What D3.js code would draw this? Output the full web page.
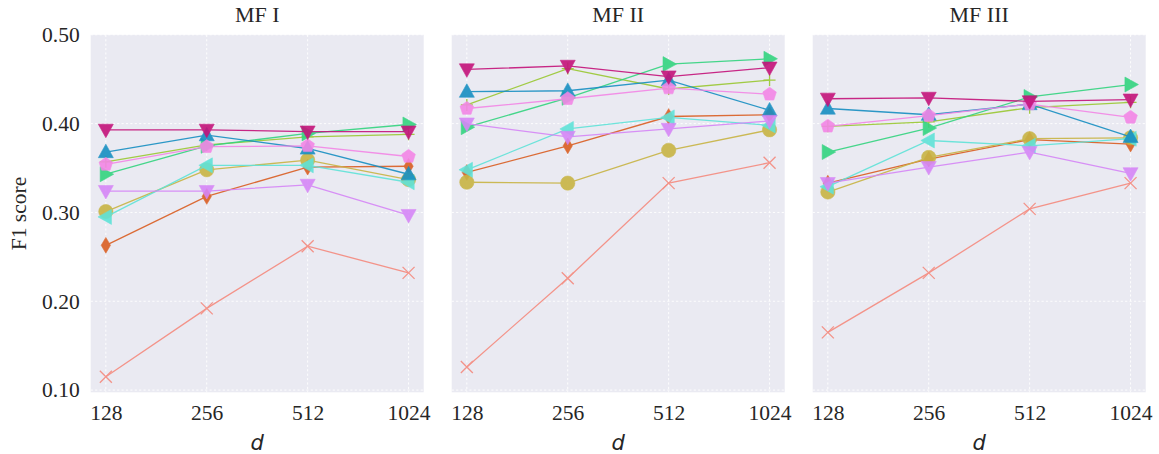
<!DOCTYPE html>
<html>
<head>
<meta charset="utf-8">
<script src="https://cdn.jsdelivr.net/npm/d3@7"></script>
<style>
  html, body { margin: 0; padding: 0; background: #ffffff; }
  svg { display: block; }
</style>
</head>
<body>
<svg id="chart" width="1159" height="454"></svg>
<script>
// ---------------- data ----------------
const categories = ["128", "256", "512", "1024"];
const panels = ["MF I", "MF II", "MF III"];
const yTicks = [0.10, 0.20, 0.30, 0.40, 0.50];

// each array: [MF I, MF II, MF III], values for d = 128, 256, 512, 1024
const seriesSalmon    = [[0.115, 0.192, 0.262, 0.232], [0.126, 0.226, 0.333, 0.356], [0.165, 0.232, 0.304, 0.333]];
const seriesOrange    = [[0.263, 0.318, 0.351, 0.352], [0.345, 0.375, 0.408, 0.410], [0.333, 0.360, 0.382, 0.377]];
const seriesOlive     = [[0.301, 0.348, 0.359, 0.337], [0.334, 0.333, 0.370, 0.393], [0.323, 0.362, 0.383, 0.384]];
const seriesYellowGreen = [[0.357, 0.376, 0.385, 0.388], [0.421, 0.462, 0.439, 0.449], [0.397, 0.402, 0.418, 0.424]];
const seriesGreen     = [[0.343, 0.375, 0.389, 0.399], [0.396, 0.429, 0.467, 0.473], [0.368, 0.395, 0.430, 0.444]];
const seriesTurquoise = [[0.295, 0.353, 0.353, 0.334], [0.348, 0.394, 0.407, 0.398], [0.329, 0.381, 0.375, 0.383]];
const seriesBlue      = [[0.368, 0.387, 0.372, 0.343], [0.436, 0.437, 0.449, 0.415], [0.417, 0.410, 0.422, 0.385]];
const seriesViolet    = [[0.324, 0.324, 0.331, 0.297], [0.400, 0.385, 0.394, 0.403], [0.333, 0.351, 0.368, 0.344]];
const seriesPink      = [[0.354, 0.374, 0.375, 0.363], [0.417, 0.428, 0.440, 0.433], [0.397, 0.409, 0.422, 0.407]];
const seriesMagenta   = [[0.393, 0.393, 0.391, 0.391], [0.461, 0.465, 0.453, 0.463], [0.428, 0.429, 0.425, 0.427]];

// ---------------- styles ----------------
const seriesList = [
  { values: seriesSalmon,      color: "#F58A7E", marker: "x" },
  { values: seriesOrange,      color: "#DA5E22", marker: "diamond" },
  { values: seriesOlive,       color: "#C8B444", marker: "circle" },
  { values: seriesYellowGreen, color: "#9AC832", marker: "plus" },
  { values: seriesGreen,       color: "#33D47F", marker: "right" },
  { values: seriesTurquoise,   color: "#5FE3D8", marker: "left" },
  { values: seriesBlue,        color: "#178FC2", marker: "up" },
  { values: seriesViolet,      color: "#D686F7", marker: "down" },
  { values: seriesPink,        color: "#F386E6", marker: "pentagon" },
  { values: seriesMagenta,     color: "#C4127A", marker: "down" }
];

const svg = d3.select("#chart");
const panelLefts = [90.7, 451.7, 812.7];
const panelWidth = 333;
const plotTop = 34.8, plotBottom = 392.3;
const serif = "'Liberation Serif', 'Times New Roman', serif";

const y = d3.scaleLinear().domain([0.0975, 0.50]).range([plotBottom, plotTop]);

function markerPath(type, s) {
  const r = s / 2;
  switch (type) {
    case "up":    return `M0,${-r*1.05}L${r},${r*0.75}L${-r},${r*0.75}Z`;
    case "down":  return `M0,${r*1.05}L${r},${-r*0.75}L${-r},${-r*0.75}Z`;
    case "right": return `M${r*1.05},0L${-r*0.75},${r}L${-r*0.75},${-r}Z`;
    case "left":  return `M${-r*1.05},0L${r*0.75},${r}L${r*0.75},${-r}Z`;
    case "diamond": return `M0,${-r*1.05}L${r*0.62},0L0,${r*1.05}L${-r*0.62},0Z`;
    case "circle": return d3.symbol(d3.symbolCircle, Math.PI * (r*0.95) * (r*0.95))();
    case "pentagon": {
      const pts = d3.range(5).map(i => {
        const a = -Math.PI / 2 + i * 2 * Math.PI / 5;
        return [r * 0.95 * Math.cos(a), r * 0.95 * Math.sin(a)];
      });
      return "M" + pts.map(p => p.join(",")).join("L") + "Z";
    }
    case "x": return `M${-r*0.8},${-r*0.8}L${r*0.8},${r*0.8}M${-r*0.8},${r*0.8}L${r*0.8},${-r*0.8}`;
    case "plus": return `M${-r*0.8},0L${r*0.8},0M0,${-r*0.8}L0,${r*0.8}`;
  }
}

panels.forEach((title, pi) => {
  const left = panelLefts[pi];
  const x = d3.scalePoint().domain(categories).range([left, left + panelWidth]).padding(0.15);
  const g = svg.append("g");

  g.append("rect")
    .attr("x", left).attr("y", plotTop)
    .attr("width", panelWidth).attr("height", plotBottom - plotTop)
    .attr("fill", "#EAEAF2");

  // grid
  g.selectAll(".hgrid").data(yTicks).enter().append("line")
    .attr("x1", left).attr("x2", left + panelWidth)
    .attr("y1", d => y(d)).attr("y2", d => y(d))
    .attr("stroke", "#ffffff").attr("stroke-width", 0.9)
    .attr("stroke-dasharray", "2.2,2.2");
  g.selectAll(".vgrid").data(categories).enter().append("line")
    .attr("x1", d => x(d)).attr("x2", d => x(d))
    .attr("y1", plotTop).attr("y2", plotBottom)
    .attr("stroke", "#ffffff").attr("stroke-width", 0.9)
    .attr("stroke-dasharray", "2.2,2.2");

  // x axis
  const xAxis = d3.axisBottom(x).tickSize(0).tickPadding(12.5);
  const xg = g.append("g").attr("transform", `translate(0,${plotBottom})`).call(xAxis);
  xg.select(".domain").remove();
  xg.selectAll("text").style("font-family", serif).style("font-size", "21.5px").attr("fill", "#262626");

  // y axis (first panel only labelled)
  if (pi === 0) {
    const yAxis = d3.axisLeft(y).tickValues(yTicks).tickFormat(d3.format(".2f")).tickSize(0).tickPadding(11);
    const yg = g.append("g").attr("transform", `translate(${left},0)`).call(yAxis);
    yg.select(".domain").remove();
    yg.selectAll("text").style("font-family", serif).style("font-size", "21.5px").attr("fill", "#262626");
  }

  // title
  g.append("text")
    .attr("x", left + panelWidth / 2).attr("y", 22)
    .attr("text-anchor", "middle")
    .style("font-family", serif).style("font-size", "22px")
    .attr("fill", "#262626")
    .text(title);

  // x label
  g.append("text")
    .attr("x", left + panelWidth / 2).attr("y", 450)
    .attr("text-anchor", "middle")
    .style("font-family", "'DejaVu Sans', sans-serif").style("font-style", "italic")
    .style("font-size", "21px")
    .attr("fill", "#262626")
    .text("d");

  // series
  const line = d3.line().x((d, i) => x(categories[i])).y(d => y(d));
  seriesList.forEach(s => {
    const vals = s.values[pi];
    const sg = g.append("g").attr("opacity", 0.9);
    sg.append("path")
      .attr("d", line(vals))
      .attr("fill", "none")
      .attr("stroke", s.color)
      .attr("stroke-width", 1.3);
    sg.selectAll("path.m").data(vals).enter().append("path")
      .attr("class", "m")
      .attr("transform", (d, i) => `translate(${x(categories[i])},${y(d)})`)
      .attr("d", markerPath(s.marker, 15))
      .attr("fill", (s.marker === "x" || s.marker === "plus") ? "none" : s.color)
      .attr("stroke", s.color)
      .attr("stroke-width", (s.marker === "x" || s.marker === "plus") ? 1.3 : 0.6);
  });
});

// y label
svg.append("text")
  .attr("transform", `translate(26,${(plotTop + plotBottom) / 2}) rotate(-90)`)
  .attr("text-anchor", "middle")
  .style("font-family", serif).style("font-size", "21.5px")
  .attr("fill", "#262626")
  .text("F1 score");
</script>
</body>
</html>
